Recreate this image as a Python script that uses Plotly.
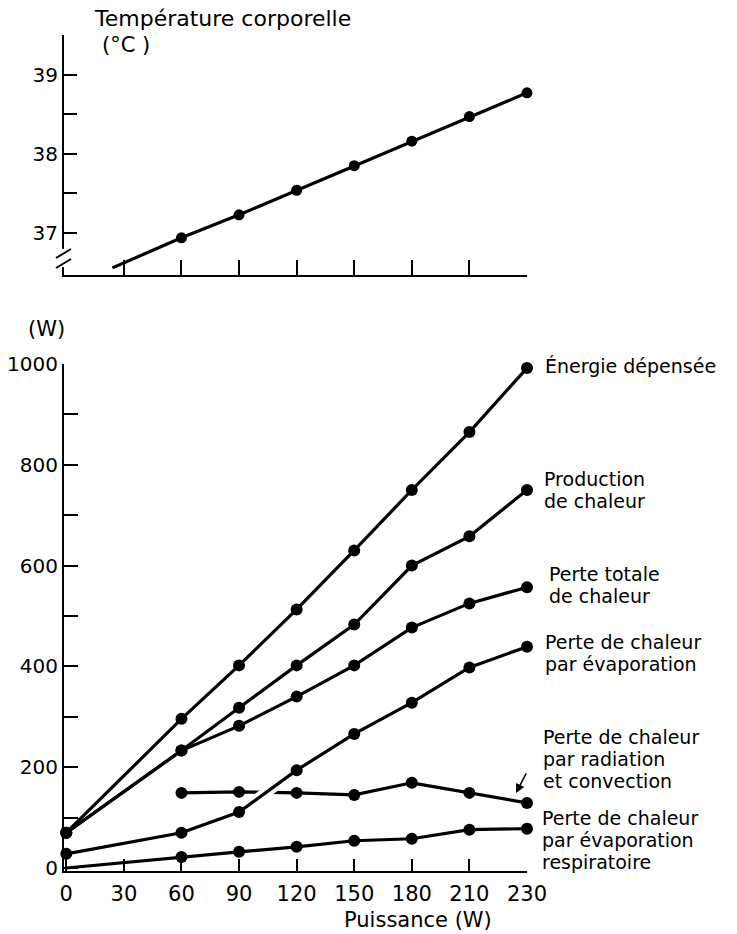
import numpy as np
import plotly.graph_objects as go

# ---------------------------------------------------------------- data
POWER_TICKS = [0, 30, 60, 90, 120, 150, 180, 210, 230]   # W (evenly spaced on the axis)

# Body temperature (°C) versus power
TEMP_POWER = [60, 90, 120, 150, 180, 210, 230]
TEMP = [36.94, 37.23, 37.54, 37.85, 38.16, 38.47, 38.77]
TEMP_LINE_START = (24, 36.56)          # where the fitted line begins

# Energy balance (W) versus power
POWER = [0, 60, 90, 120, 150, 180, 210, 230]
ENERGIE = [70, 296, 402, 513, 630, 750, 865, 992]
PRODUCTION = [70, 233, 318, 402, 483, 600, 658, 750]
PERTE_TOTALE = [70, 233, 282, 340, 402, 477, 525, 557]
EVAPORATION = [28, 70, 111, 194, 266, 328, 398, 439]
RESPIRATOIRE = [0, 22, 32, 42, 54, 58, 76, 78]
RAD_POWER = [60, 90, 120, 150, 180, 210, 230]
RADIATION = [149, 151, 149, 145, 169, 149, 129]

Y_TICKS = list(range(0, 1001, 100))
TEMP_TICKS = [37, 37.5, 38, 38.5, 39, 39.5]

# ---------------------------------------------------------------- helpers
W, H = 737, 934
FONT = "DejaVu Sans"


def px(x):
    return x / W


def py(y):
    return 1 - y / H


def pos(watts):
    """Position of a power value on the evenly spaced power axis."""
    return np.interp(watts, POWER_TICKS, np.arange(len(POWER_TICKS))).tolist()


LINE_W = 3.2
MARK = 12

fig = go.Figure()


def series(x, y, axis, size=MARK, sizes=None, color="black", width=LINE_W, markers=True):
    fig.add_trace(go.Scatter(
        x=pos(x), y=y, xaxis=axis[0], yaxis=axis[1],
        mode="lines+markers" if markers else "lines",
        line=dict(color=color, width=width),
        marker=dict(color=color, size=sizes if sizes is not None else size,
                    opacity=1, line=dict(width=0)),
        cliponaxis=False, showlegend=False, hoverinfo="skip",
    ))


# top panel: body temperature
series([TEMP_LINE_START[0]] + TEMP_POWER, [TEMP_LINE_START[1]] + TEMP,
       ("x", "y"), sizes=[0] + [11] * len(TEMP))

# bottom panel: energy balance
bot = ("x2", "y2")
series(POWER, ENERGIE, bot)
series(POWER, PRODUCTION, bot)
series(POWER, PERTE_TOTALE, bot)
series(POWER, RESPIRATOIRE, bot, sizes=[0] + [MARK] * (len(RESPIRATOIRE) - 1))
series(RAD_POWER, RADIATION, bot)
# white casing so the evaporation curve cuts through the radiation curve
series(POWER, EVAPORATION, bot, color="white", width=11, markers=False)
series(POWER, EVAPORATION, bot)

# ---------------------------------------------------------------- axes
axis_common = dict(
    showline=True, linecolor="black", linewidth=2, showgrid=False, zeroline=False,
    ticks="inside", tickcolor="black", tickwidth=2, automargin=False,
    tickfont=dict(family=FONT, size=20, color="black"),
)
x_dom = [px(64), px(527)]
x_range = [-0.04, len(POWER_TICKS) - 1]

fig.update_layout(
    template="none",
    width=W, height=H, margin=dict(l=0, r=0, t=0, b=0, pad=0, autoexpand=False),
    paper_bgcolor="white", plot_bgcolor="white", showlegend=False,
    xaxis=dict(axis_common, domain=x_dom, range=x_range, anchor="y",
               tickvals=list(range(1, len(POWER_TICKS))), showticklabels=False, ticklen=15),
    yaxis=dict(axis_common, domain=[py(275), py(35)], range=[36.47, 39.5], anchor="x",
               tickvals=TEMP_TICKS,
               ticktext=[f"{v:g}" if v == int(v) and v < 39.5 else "" for v in TEMP_TICKS],
               ticklen=13),
    xaxis2=dict(axis_common, domain=x_dom, range=x_range, anchor="y2",
                tickvals=list(range(len(POWER_TICKS))),
                ticktext=[str(v) for v in POWER_TICKS], ticklen=12,
                ticklabelstandoff=3,
                tickfont=dict(family=FONT, size=21, color="black")),
    yaxis2=dict(axis_common, domain=[py(871), py(364)], range=[-6, 1000], anchor="x2",
                tickvals=Y_TICKS,
                ticktext=[str(v) if v % 200 == 0 else "" for v in Y_TICKS],
                ticklen=14),
)

# ---------------------------------------------------------------- axis break (//)
fig.add_shape(type="rect", x0=px(60), x1=px(68), y0=36.57, y1=36.80,
              xref="paper", yref="y",
              fillcolor="white", line=dict(width=0), layer="above")
for y_lo, y_hi in [(258, 249), (268, 259)]:
    fig.add_shape(type="line", x0=px(56), x1=px(71), y0=py(y_lo), y1=py(y_hi),
                  xref="paper", yref="paper", line=dict(color="black", width=2),
                  layer="above")

# ---------------------------------------------------------------- text
def text(x, y, s, size=20, xanchor="left", yanchor="middle"):
    fig.add_annotation(x=px(x), y=py(y), xref="paper", yref="paper", text=s,
                       showarrow=False, xanchor=xanchor, yanchor=yanchor,
                       font=dict(family=FONT, size=size, color="black"))


text(92, 18, "Température corporelle", size=22)
text(100, 45, "(°C )", size=21)
text(26, 329, "(W)", size=21)
text(494, 920, "Puissance (W)", size=21, xanchor="right")

# curve labels, anchored on each curve's last point (dx, dy: block offset in px)
LABEL_SIZE = 19
LINE_STEP = 22.2
labels = [
    (ENERGIE[-1], ["Énergie dépensée"], 16, 2),
    (PRODUCTION[-1], ["Production", "de chaleur"], 15, 0),
    (PERTE_TOTALE[-1], ["Perte totale", "de chaleur"], 20, 2),
    (EVAPORATION[-1], ["Perte de chaleur", "par évaporation"], 16, -6),
    (RADIATION[-1], ["Perte de chaleur", "par radiation", "et convection"], 14, 44),
    (RESPIRATOIRE[-1], ["Perte de chaleur", "par évaporation", "respiratoire"], 13, -11.5),
]
for y_last, lines, dx, dy in labels:
    top = dy + (len(lines) - 1) / 2 * LINE_STEP
    for i, s in enumerate(lines):
        fig.add_annotation(x=pos(POWER[-1]), y=y_last, xref="x2", yref="y2", text=s,
                           showarrow=False, xanchor="left", yanchor="middle",
                           xshift=dx, yshift=top - i * LINE_STEP,
                           font=dict(family=FONT, size=LABEL_SIZE, color="black"))

# arrow pointing from the radiation label to its curve
fig.add_annotation(x=pos(RAD_POWER[-1]), y=RADIATION[-1], xref="x2", yref="y2",
                   xshift=-11, yshift=10, ax=11, ay=-21, text="",
                   showarrow=True, arrowhead=2, arrowsize=1.2, arrowwidth=1.5,
                   arrowcolor="black")

fig.write_html("out.html")
